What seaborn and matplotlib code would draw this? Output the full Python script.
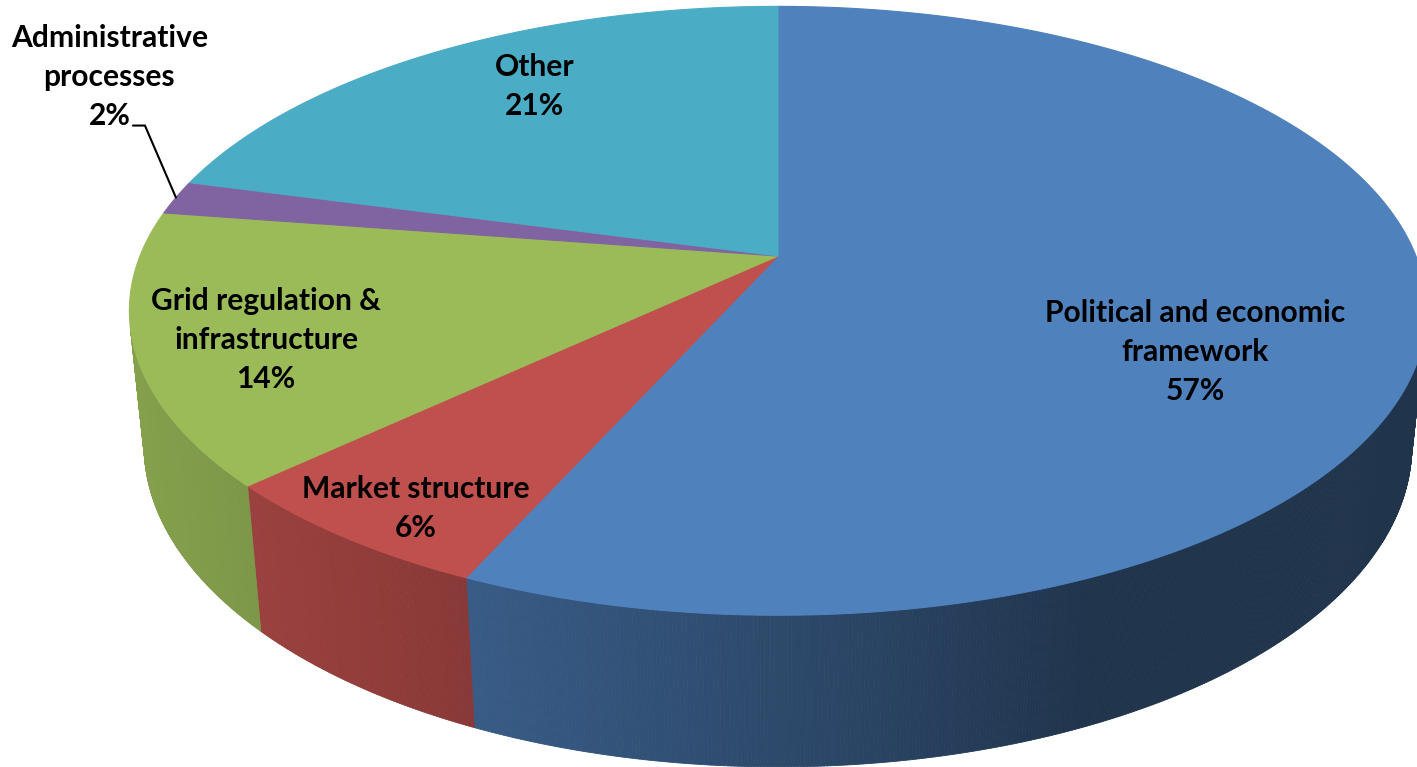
import numpy as np
import matplotlib
matplotlib.use("Agg")
import matplotlib.pyplot as plt
import seaborn as sns
from matplotlib.collections import PolyCollection
from matplotlib.colors import to_rgb

# --- data -------------------------------------------------------------
names = ["Political and economic\nframework", "Market structure",
         "Grid regulation &\ninfrastructure", "Administrative\nprocesses", "Other"]
shares = [56.7, 6.3, 14.4, 1.8, 20.8]
colors = ["#4F81BD", "#C0504D", "#9BBB59", "#8064A2", "#4BACC6"]

# label anchors in the pie plane: (degrees clockwise from 12 o'clock, radius)
label_pos = [(116.4, 0.69), (213.6, 0.89), (250.4, 0.81), (300.1, 1.36), (326.5, 0.77)]

# --- 3d pie camera ----------------------------------------------------
ELEV = np.radians(27.5)
DIST = 4.93
THICK = 0.24


def project(phi, r, z=0.0):
    u = r * np.sin(phi)
    v = r * np.cos(phi)
    d = DIST + v * np.cos(ELEV) - z * np.sin(ELEV)
    return DIST * u / d, DIST * (v * np.sin(ELEV) + z * np.cos(ELEV)) / d


def shade(phi):
    return 0.40 + 0.46 * np.clip(np.cos(0.86 * (phi - np.radians(260))), 0, None)


sns.set_theme(style="white")
plt.rcParams["font.family"] = ["Lato", "DejaVu Sans"]

fig = plt.figure(figsize=(14.17, 7.67), dpi=100)
ax = fig.add_axes([0, 0, 1, 1])
ax.set_xlim(-1.2194, 1.0016)
ax.set_ylim(-0.8009, 0.4013)
ax.axis("off")

palette = sns.color_palette(colors)
bounds = np.radians(np.concatenate([[0], np.cumsum(shares)]) / sum(shares) * 360)
vis_lo = np.arccos(-1 / (DIST * np.cos(ELEV)))
vis_hi = 2 * np.pi - vis_lo

# outer wall (only the part facing the viewer)
wall_verts, wall_cols = [], []
for i, base in enumerate(palette):
    a0, a1 = max(bounds[i], vis_lo), min(bounds[i + 1], vis_hi)
    if a1 <= a0:
        continue
    phis = np.linspace(a0, a1, max(int(np.degrees(a1 - a0) * 4), 2))
    for p0, p1 in zip(phis[:-1], phis[1:]):
        t0 = project(p0, 1.0)
        t1 = project(p1, 1.0)
        b1 = project(p1, 1.0, -THICK)
        b0 = project(p0, 1.0, -THICK)
        wall_verts.append([t0, t1, b1, b0])
        wall_cols.append(tuple(np.array(to_rgb(base)) * shade(0.5 * (p0 + p1))))
ax.add_collection(PolyCollection(wall_verts, facecolors=wall_cols,
                                 edgecolors=wall_cols, linewidths=0.6))

# top faces
for i, base in enumerate(palette):
    phis = np.linspace(bounds[i], bounds[i + 1], 200)
    xs, ys = project(phis, 1.0)
    pts = np.column_stack([np.r_[0, xs], np.r_[0, ys]])
    ax.fill(pts[:, 0], pts[:, 1], color=base, lw=0.8, ec=base)

# labels
for i, (ang, r) in enumerate(label_pos):
    x, y = project(np.radians(ang), r)
    ax.text(x, y, f"{names[i]}\n{round(shares[i])}%", ha="center", va="center",
            fontsize=21.6, fontweight="bold", linespacing=1.48, color="black")

# leader for the small slice
mid = 0.5 * (bounds[3] + bounds[4])
ex, ey = project(mid, 1.0)
kx, ky = ex - 31 / 638, ey + 72 / 638
ax.plot([ex, kx, kx - 12 / 638], [ey, ky, ky], color="black", lw=1.5,
        solid_joinstyle="miter")

plt.savefig("out.png", dpi=100)
